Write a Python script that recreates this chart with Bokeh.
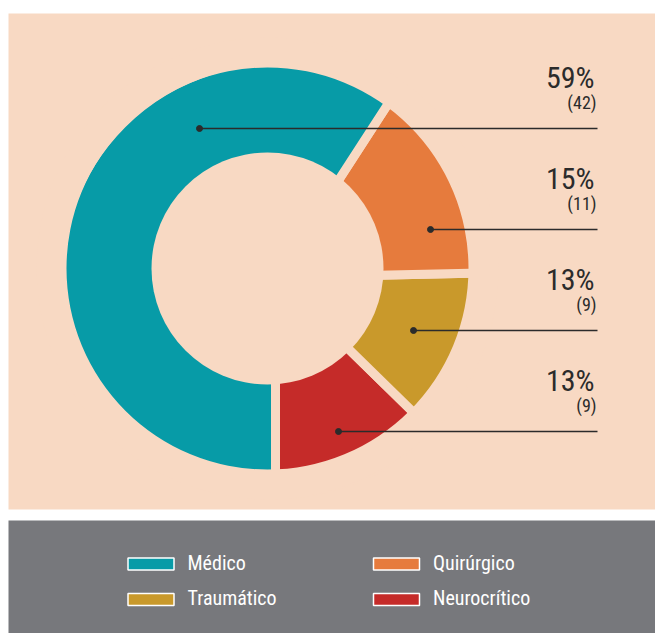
import math
from bokeh.plotting import figure
from bokeh.models import Range1d, ColumnDataSource
from bokeh.core.properties import value
from bokeh.embed import file_html
from bokeh.resources import INLINE

# ---------------- data ----------------
categories = ["Médico", "Quirúrgico", "Traumático", "Neurocrítico"]
counts = [42, 11, 9, 9]
colors = ["#079ba7", "#e67b3d", "#c9992b", "#c52b29"]

# ---------------- styles / layout ----------------
W, H = 655, 633
PEACH = "#f8d9c3"
GREY = "#77787c"
INK = "#2b2b2b"
COND = value("Roboto Condensed")

p = figure(width=W, height=H, x_range=Range1d(-8, W - 8), y_range=Range1d(0, H),
           output_backend="svg", toolbar_location=None, min_border=0)
p.axis.visible = False
p.grid.visible = False
p.outline_line_color = None
p.background_fill_color = "white"
p.border_fill_color = "white"

# panels
p.quad(left=[0], right=[660], bottom=[124], top=[620], fill_color=PEACH, line_color=None)
p.quad(left=[0], right=[660], bottom=[-5], top=[113], fill_color=GREY, line_color=None)

# ---------------- donut ----------------
cx, cy = 259, 365
r_in, r_out = 116, 201
gx, gy = cx + 8, cy - 9     # visual centre of the separators
total = sum(counts)
order = [3, 2, 1, 0]        # counter-clockwise from the bottom
a = -math.pi / 2
starts, ends, cols = [], [], []
for i in order:
    span = counts[i] / total * 2 * math.pi
    starts.append(a)
    ends.append(a + span)
    cols.append(colors[i])
    a += span

src = ColumnDataSource(dict(x=[gx] * 4, y=[gy] * 4, s=starts, e=ends, c=cols))
p.wedge(x="x", y="y", radius=r_out + 16, start_angle="s", end_angle="e",
        fill_color="c", line_color=PEACH, line_width=9, source=src)
# trim to the ring
p.annulus(x=[cx], y=[cy], inner_radius=r_out, outer_radius=r_out + 30,
          fill_color=PEACH, line_color=None)
p.circle(x=[cx], y=[cy], radius=r_in, fill_color=PEACH, line_color=None)

# ---------------- leaders & labels ----------------
row_top, row_step = 505, 101
rows = [row_top - k * row_step for k in range(4)]
dot_x = [191, 422, 405, 330]
line_end = 589

p.segment(x0=dot_x, y0=rows, x1=[line_end] * 4, y1=rows, line_color=INK, line_width=1.6)
p.scatter(x=dot_x, y=rows, size=6, fill_color=INK, line_color=INK)

pct = ["%d%%" % round(c / total * 100) for c in counts]
cnt = ["(%d)" % c for c in counts]
p.text(x=[586] * 4, y=[r + 51 for r in rows], text=pct, text_align="right",
       text_baseline="alphabetic", text_font=COND, text_font_size="30px", text_color=INK)
p.text(x=[588] * 4, y=[r + 26 for r in rows], text=cnt, text_align="right",
       text_baseline="alphabetic", text_font=COND, text_font_size="18px", text_color=INK)

# ---------------- legend ----------------
col_x = [142.5, 388]
row_y = [69.5, 34]
grid = [(0, 0), (1, 0), (0, 1), (1, 1)]
sx = [col_x[g[0]] for g in grid]
sy = [row_y[g[1]] for g in grid]
p.rect(x=sx, y=sy, width=46, height=12, fill_color=colors, line_color="white", line_width=1.5)
p.text(x=[v + 36.5 for v in sx], y=[v + 1.5 for v in sy], text=categories,
       text_align="left", text_baseline="alphabetic", text_font=COND,
       text_font_size="20px", text_color="white")

open("out.html", "w").write(file_html(p, INLINE))
